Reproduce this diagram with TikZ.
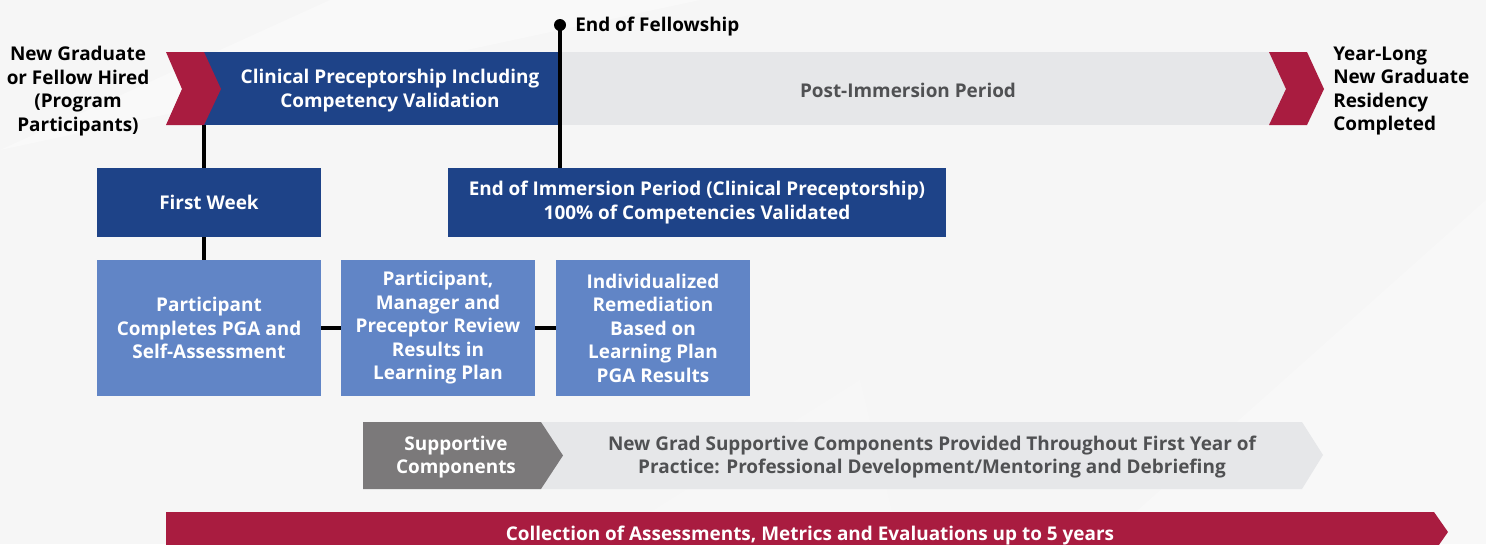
\documentclass[tikz,border=0pt]{standalone}
\usepackage{fontspec}
\setmainfont{Open Sans}
\definecolor{bgc}{HTML}{F6F6F6}
\definecolor{redc}{HTML}{A91C40}
\definecolor{dblue}{HTML}{1E4388}
\definecolor{lblue}{HTML}{6185C6}
\definecolor{lgray}{HTML}{E6E7E9}
\definecolor{dgray}{HTML}{7B797A}
\definecolor{tgray}{HTML}{505153}
\tikzset{
  txt/.style={font=\bfseries\fontsize{14.2}{17.6}\selectfont, align=center, inner sep=0pt},
  lbl/.style={txt, yshift=-1.6pt},
  darkbox/.style={fill=dblue, text=white, inner sep=0pt, txt},
  lightbox/.style={fill=lblue, text=white, inner sep=0pt, txt, minimum height=102pt},
  conn/.style={line width=3.2pt, draw=black},
}
\begin{document}
\begin{tikzpicture}[x=0.75pt,y=-0.75pt]
\useasboundingbox (0,0) rectangle (1486,544);
\fill[bgc] (0,0) rectangle (1486,544);
% faint background facets
\fill[white,opacity=0.35] (0,150) -- (330,0) -- (700,0) -- cycle;
\fill[white,opacity=0.3] (1100,544) -- (1486,200) -- (1486,544) -- cycle;
\fill[white,opacity=0.15] (600,544) -- (860,380) -- (900,544) -- cycle;

% top bar
\node[fill=dblue, minimum width=267pt, minimum height=54.75pt, inner sep=0pt] (topbar) at (382,88.5) {};
\node[fill=lgray, minimum width=546pt, minimum height=54.75pt, inner sep=0pt] (graybar) at (924,88.5) {};
\fill[redc] (166,52) -- (204,52) -- (221,89) -- (204,125) -- (166,125) -- (182,89) -- cycle;
\fill[redc] (1269,52) -- (1307,52) -- (1324,89) -- (1307,125) -- (1269,125) -- (1286,89) -- cycle;
\node[lbl, text=white] (clin) at (390,88.5) {Clinical Preceptorship Including\\Competency Validation};
\node[lbl, text=tgray] (post) at (908,88.5) {Post-Immersion Period};

\node[lbl, text=black] (hired) at (78,89) {New Graduate\\or Fellow Hired\\(Program\\Participants)};
\node[lbl, text=black, anchor=west, align=left] (done) at (1333,89) {Year-Long\\New Graduate\\Residency\\Completed};

% boxes
\node[darkbox, minimum width=168pt, minimum height=51.75pt] (fw) at (209,202.5) {First Week};
\node[darkbox, minimum width=373.5pt, minimum height=51.75pt] (imm) at (697,202.5) {End of Immersion Period (Clinical Preceptorship)\\100\% of Competencies Validated};
\node[lightbox, minimum width=168pt] (pga) at (209,328) {Participant\\Completes PGA and\\Self-Assessment};
\node[lightbox, minimum width=145.5pt] (rev) at (438,328) {Participant,\\Manager and\\Preceptor Review\\Results in\\Learning Plan};
\node[lightbox, minimum width=145.5pt] (rem) at (653,328) {Individualized\\Remediation\\Based on\\Learning Plan\\PGA Results};

% fellowship marker
\node[circle, fill=black, minimum size=9pt, inner sep=0pt] (dot) at (560,25) {};
\node[lbl, text=black, anchor=west] (fellow) at (575,24) {End of Fellowship};

% connectors
\draw[conn] (dot.center) -- (imm.north -| dot.center);
\draw[conn] (topbar.south west) -- (fw.north -| topbar.south west);
\draw[conn] (fw.south -| topbar.south west) -- (pga.north -| topbar.south west);
\draw[conn] (pga.east) -- (rev.west);
\draw[conn] (rev.east) -- (rem.west);

% supportive components
\fill[lgray] (530,422) -- (1302,422) -- (1323,455) -- (1302,489) -- (530,489) -- cycle;
\fill[dgray] (363,422) -- (541,422) -- (563,455.5) -- (541,489) -- (363,489) -- cycle;
\node[lbl, text=white] (supp) at (456,455) {Supportive\\Components};
\node[lbl, text=tgray] (suppdesc) at (932,455) {New Grad Supportive Components Provided Throughout First Year of\\Practice: Professional Development/Mentoring and Debriefing};

% bottom bar
\fill[redc] (166,512) -- (1434,512) -- (1448,532) -- (1434,552) -- (166,552) -- cycle;
\node[lbl, text=white] (coll) at (810,533) {Collection of Assessments, Metrics and Evaluations up to 5 years};
\end{tikzpicture}
\end{document}
